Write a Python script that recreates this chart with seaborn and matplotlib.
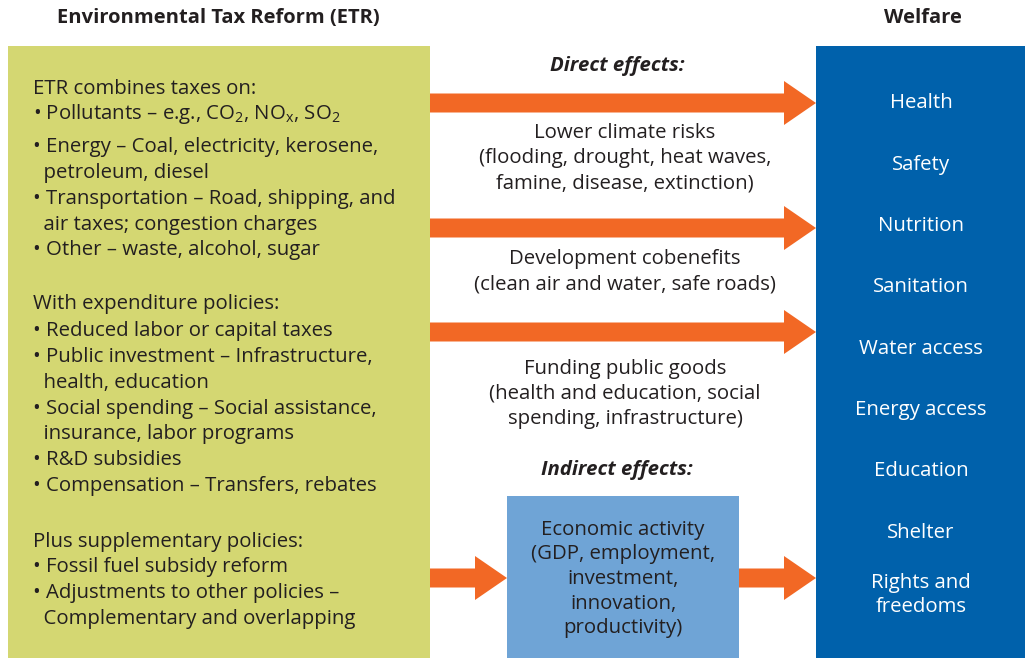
import matplotlib
matplotlib.use("Agg")
import matplotlib.pyplot as plt
import seaborn as sns
from matplotlib.patches import Rectangle, Polygon

sns.set_theme(style="white")
plt.rcParams['font.family'] = ['Open Sans', 'DejaVu Sans']
plt.rcParams['mathtext.fontset'] = 'custom'
plt.rcParams['mathtext.rm'] = 'Open Sans'
plt.rcParams['mathtext.it'] = 'Open Sans:italic'

# ---- content ----
left_title = "Environmental Tax Reform (ETR)"
right_title = "Welfare"
left_lines = [
    "ETR combines taxes on:",
    "• Pollutants – e.g., CO$_2$, NO$_\\mathrm{x}$, SO$_2$",
    "• Energy – Coal, electricity, kerosene,",
    "  petroleum, diesel",
    "• Transportation – Road, shipping, and",
    "  air taxes; congestion charges",
    "• Other – waste, alcohol, sugar",
    "With expenditure policies:",
    "• Reduced labor or capital taxes",
    "• Public investment – Infrastructure,",
    "  health, education",
    "• Social spending – Social assistance,",
    "  insurance, labor programs",
    "• R&D subsidies",
    "• Compensation – Transfers, rebates",
    "Plus supplementary policies:",
    "• Fossil fuel subsidy reform",
    "• Adjustments to other policies –",
    "  Complementary and overlapping",
]
left_line_y = [89, 114, 147, 173, 199, 225, 250, 304, 331, 357, 383, 409, 434,
               460, 486, 542, 567, 593, 619]

direct_label = "Direct effects:"
indirect_label = "Indirect effects:"
effect_texts = [
    "Lower climate risks\n(flooding, drought, heat waves,\nfamine, disease, extinction)",
    "Development cobenefits\n(clean air and water, safe roads)",
    "Funding public goods\n(health and education, social\nspending, infrastructure)",
]
effect_text_y = [158, 272, 394]
econ_text = "Economic activity\n(GDP, employment,\ninvestment,\ninnovation,\nproductivity)"

welfare_items = ["Health", "Safety", "Nutrition", "Sanitation", "Water access",
                 "Energy access", "Education", "Shelter", "Rights and\nfreedoms"]
welfare_y = [103, 165, 226, 287, 349, 410, 471, 533, 595]

# ---- colours ----
GREEN = "#D4D772"
BLUE = "#0061AB"
LIGHTBLUE = "#6FA4D6"
ORANGE = "#F26825"
TEXT = "#231F20"

W, H = 1025, 658
fig = plt.figure(figsize=(W / 100, H / 100), dpi=100)
ax = fig.add_axes([0, 0, 1, 1])
ax.set_xlim(0, W)
ax.set_ylim(H, 0)
ax.axis("off")

# boxes
ax.add_patch(Rectangle((8, 46), 422, 612, facecolor=GREEN, edgecolor="none"))
ax.add_patch(Rectangle((816, 46), 209, 612, facecolor=BLUE, edgecolor="none"))
ax.add_patch(Rectangle((507, 496), 232, 162, facecolor=LIGHTBLUE, edgecolor="none"))


def arrow(x0, x1, yc, shaft=19, head_len=32, head_h=44):
    xh = x1 - head_len
    pts = [(x0, yc - shaft / 2), (xh, yc - shaft / 2), (xh, yc - head_h / 2),
           (x1, yc), (xh, yc + head_h / 2), (xh, yc + shaft / 2), (x0, yc + shaft / 2)]
    ax.add_patch(Polygon(pts, closed=True, facecolor=ORANGE, edgecolor="none"))


for yc in [103, 228, 332]:
    arrow(430, 816, yc)
arrow(430, 507, 578, head_len=32)
arrow(739, 816, 578, head_len=32)

FS = 14.7
LS = 1.36
ax.text(218, 18, left_title, ha="center", va="center", fontsize=14.5,
        fontweight="bold", color=TEXT)
ax.text(923, 18, right_title, ha="center", va="center", fontsize=14.5,
        fontweight="bold", color=TEXT)

for s, y in zip(left_lines, left_line_y):
    ax.text(33, y, s, ha="left", va="center", fontsize=FS, color=TEXT)

ax.text(617, 66, direct_label, ha="center", va="center", fontsize=FS,
        fontweight="bold", style="italic", color=TEXT)
ax.text(617, 470, indirect_label, ha="center", va="center", fontsize=FS,
        fontweight="bold", style="italic", color=TEXT)
for s, y in zip(effect_texts, effect_text_y):
    ax.text(625, y, s, ha="center", va="center", fontsize=FS, color=TEXT,
            linespacing=LS)
ax.text(623, 579, econ_text, ha="center", va="center", fontsize=FS, color=TEXT,
        linespacing=1.31)

for s, y in zip(welfare_items, welfare_y):
    ax.text(921, y, s, ha="center", va="center", fontsize=FS, color="white",
            linespacing=1.32)

fig.savefig("out.png", dpi=100)
